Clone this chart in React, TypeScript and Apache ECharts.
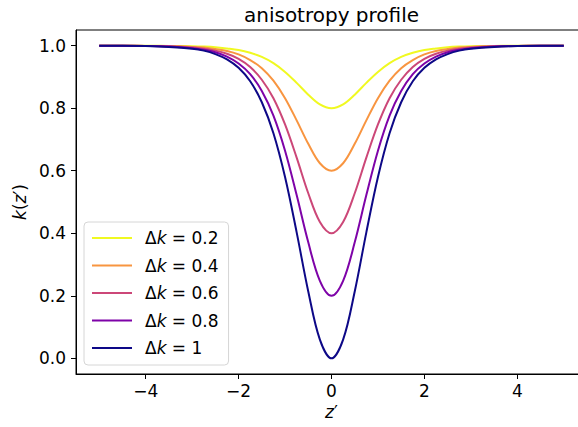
import React, { useEffect, useRef } from "react";
import * as echarts from "echarts";

const zValues = [
  -5, -4.5, -4, -3.5, -3, -2.75, -2.5, -2.25, -2, -1.75, -1.5, -1.25, -1, -0.75, -0.5, -0.25,
  0, 0.25, 0.5, 0.75, 1, 1.25, 1.5, 1.75, 2, 2.25, 2.5, 2.75, 3, 3.5, 4, 4.5, 5,
];

const kDk02 = [
  1.0, 1.0, 1.0, 0.999, 0.998, 0.997, 0.995, 0.991, 0.986, 0.977, 0.964, 0.944, 0.916, 0.881, 0.843, 0.812,
  0.8, 0.812, 0.843, 0.881, 0.916, 0.944, 0.964, 0.977, 0.986, 0.991, 0.995, 0.997, 0.998, 0.999, 1.0, 1.0, 1.0,
];
const kDk04 = [
  1.0, 1.0, 0.999, 0.999, 0.996, 0.994, 0.989, 0.983, 0.972, 0.954, 0.928, 0.888, 0.832, 0.761, 0.686, 0.624,
  0.6, 0.624, 0.686, 0.761, 0.832, 0.888, 0.928, 0.954, 0.972, 0.983, 0.989, 0.994, 0.996, 0.999, 0.999, 1.0, 1.0,
];
const kDk06 = [
  1.0, 1.0, 0.999, 0.998, 0.994, 0.99, 0.984, 0.974, 0.958, 0.932, 0.891, 0.832, 0.748, 0.642, 0.528, 0.436,
  0.4, 0.436, 0.528, 0.642, 0.748, 0.832, 0.891, 0.932, 0.958, 0.974, 0.984, 0.99, 0.994, 0.998, 0.999, 1.0, 1.0,
];
const kDk08 = [
  1.0, 1.0, 0.999, 0.997, 0.992, 0.987, 0.979, 0.965, 0.943, 0.909, 0.855, 0.776, 0.664, 0.522, 0.371, 0.248,
  0.2, 0.248, 0.371, 0.522, 0.664, 0.776, 0.855, 0.909, 0.943, 0.965, 0.979, 0.987, 0.992, 0.997, 0.999, 1.0, 1.0,
];
const kDk1 = [
  1.0, 1.0, 0.999, 0.996, 0.99, 0.984, 0.973, 0.956, 0.929, 0.886, 0.819, 0.72, 0.58, 0.403, 0.214, 0.06,
  0.0, 0.06, 0.214, 0.403, 0.58, 0.72, 0.819, 0.886, 0.929, 0.956, 0.973, 0.984, 0.99, 0.996, 0.999, 1.0, 1.0,
];

const seriesNames = ["Δk = 0.2", "Δk = 0.4", "Δk = 0.6", "Δk = 0.8", "Δk = 1"];
const seriesValues = [kDk02, kDk04, kDk06, kDk08, kDk1];
const seriesColors = ["#f0f921", "#f89540", "#cc4778", "#7e03a8", "#0d0887"];

const xTicks = [-4, -2, 0, 2, 4];
const yTicks = [0, 0.2, 0.4, 0.6, 0.8, 1.0];

const titleText = "anisotropy profile";
const FONT = "DejaVu Sans";
const FS = 17;

export default function App() {
  const ref = useRef<HTMLDivElement>(null);

  useEffect(() => {
    if (!ref.current) return;
    const chart = echarts.init(ref.current, null, { renderer: "svg" });
    const series = seriesNames.map((name, i) => ({
      name,
      type: "line",
      data: zValues.map((z, j) => [z, seriesValues[i][j]]),
      symbol: "none",
      smooth: 0.35,
      lineStyle: { color: seriesColors[i], width: 2 },
      itemStyle: { color: seriesColors[i] },
      z: 2 + i,
    }));

    chart.setOption({
      animation: false,
      backgroundColor: "#ffffff",
      textStyle: { fontFamily: FONT },
      graphic: [
        {
          type: "text",
          x: 331.5,
          y: 15,
          style: {
            text: titleText,
            fontSize: 20,
            fontFamily: FONT,
            fill: "#000",
            textAlign: "center",
            textVerticalAlign: "middle",
          },
        },
      ],
      grid: {
        left: 76,
        top: 30,
        width: 511,
        height: 344,
        show: true,
        borderColor: "#000",
        borderWidth: 1,
        backgroundColor: "transparent",
        containLabel: false,
        outerBoundsMode: "none",
      },
      legend: {
        orient: "vertical",
        left: 84,
        top: 222,
        padding: [6, 10, 7, 8],
        icon: "rect",
        itemWidth: 40,
        itemHeight: 2,
        itemGap: 7.5,
        borderColor: "#d6d6d6",
        borderWidth: 1,
        borderRadius: 4,
        backgroundColor: "rgba(255,255,255,0.8)",
        data: seriesNames,
        formatter: (name: string) => name.replace("k", "{i|k}"),
        textStyle: {
          fontFamily: FONT,
          fontSize: FS,
          color: "#000",
          padding: [0, 0, 0, 8],
          lineHeight: 20,
          rich: {
            i: { fontStyle: "italic", fontFamily: FONT, fontSize: FS, color: "#000", lineHeight: 20 },
          },
        },
      },
      xAxis: {
        type: "value",
        min: -5.5,
        max: 5.5,
        name: "{i|z}′",
        nameLocation: "middle",
        nameGap: 28,
        nameTextStyle: {
          fontFamily: FONT,
          fontSize: FS,
          color: "#000",
          rich: { i: { fontStyle: "italic", fontFamily: FONT, fontSize: FS, color: "#000" } },
        },
        axisLine: { show: true, onZero: false, lineStyle: { color: "#000", width: 1 } },
        axisTick: { show: true, length: 5, lineStyle: { color: "#000" }, customValues: xTicks },
        axisLabel: {
          show: true,
          margin: 8,
          fontSize: FS,
          fontFamily: FONT,
          color: "#000",
          customValues: xTicks,
          formatter: (v: number) => (v < 0 ? "−" + Math.abs(v) : String(v)),
        },
        splitLine: { show: false },
      },
      yAxis: {
        type: "value",
        min: -0.05,
        max: 1.05,
        name: "{i|k}({i|z}′)",
        nameLocation: "middle",
        nameGap: 40,
        nameTextStyle: {
          fontFamily: FONT,
          fontSize: FS,
          color: "#000",
          rich: { i: { fontStyle: "italic", fontFamily: FONT, fontSize: FS, color: "#000" } },
        },
        axisLine: { show: true, onZero: false, lineStyle: { color: "#000", width: 1 } },
        axisTick: { show: true, length: 5, lineStyle: { color: "#000" }, customValues: yTicks },
        axisLabel: {
          show: true,
          margin: 10,
          fontSize: FS,
          fontFamily: FONT,
          color: "#000",
          customValues: yTicks,
          formatter: (v: number) => v.toFixed(1),
        },
        splitLine: { show: false },
      },
      series,
    });

    return () => {
      chart.dispose();
    };
  }, []);

  return (
    <div
      ref={ref}
      style={{ position: "absolute", left: 0, top: 0, width: 578, height: 427, overflow: "hidden" }}
    />
  );
}
